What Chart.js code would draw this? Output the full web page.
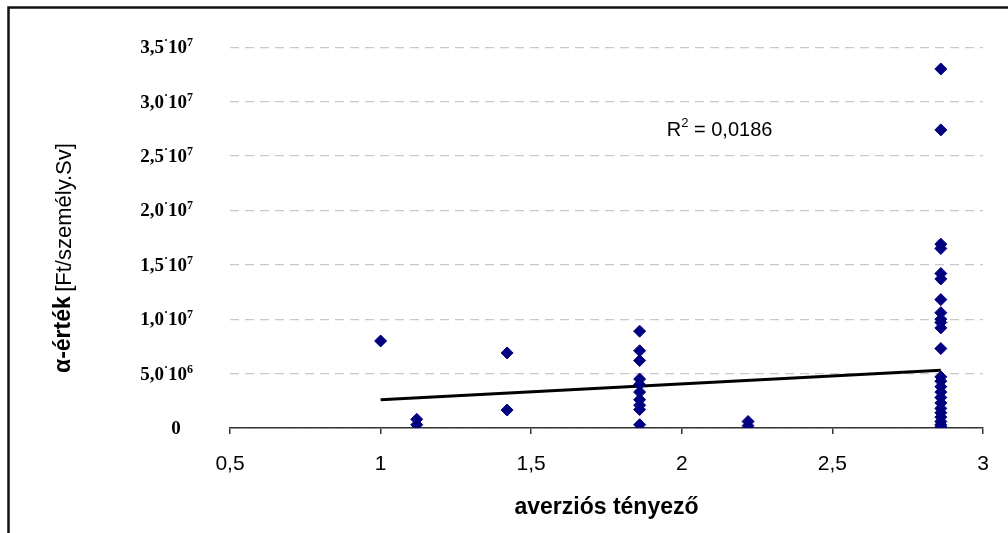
<!DOCTYPE html>
<html>
<head>
<meta charset="utf-8">
<script src="https://cdn.jsdelivr.net/npm/chart.js@4"></script>
<style>
  html, body { margin: 0; padding: 0; background: #fff; }
  #wrap { width: 1008px; height: 533px; position: relative; }
</style>
</head>
<body>
<div id="wrap"><canvas id="alphaChart"></canvas></div>
<script>
// measured points: averziós tényező vs. α-érték
const aversionX = [
  1,
  1.12, 1.12,
  1.42, 1.42,
  1.86, 1.86, 1.86, 1.86, 1.86, 1.86, 1.86, 1.86, 1.86, 1.86,
  2.22, 2.22,
  2.86, 2.86, 2.86, 2.86, 2.86, 2.86, 2.86, 2.86, 2.86, 2.86, 2.86, 2.86,
  2.86, 2.86, 2.86, 2.86, 2.86, 2.86, 2.86, 2.86, 2.86, 2.86, 2.86, 2.86
];
const alphaValues = [
  8.0e6,
  0.8e6, 0.3e6,
  6.9e6, 1.65e6,
  8.9e6, 7.1e6, 6.2e6, 4.5e6, 4.0e6, 3.3e6, 2.6e6, 2.1e6, 1.7e6, 0.3e6,
  0.6e6, 0.2e6,
  33.0e6, 27.4e6, 16.9e6, 16.5e6, 14.2e6, 13.7e6, 11.8e6, 10.6e6, 10.0e6, 9.7e6, 9.2e6, 7.3e6,
  4.7e6, 4.3e6, 3.8e6, 3.3e6, 2.8e6, 2.3e6, 1.8e6, 1.4e6, 1.0e6, 0.6e6, 0.3e6, 0.1e6
];

// linear trendline end points
const trendX = [1, 2.86];
const trendY = [2.6e6, 5.3e6];

// y tick labels: mantissa and power of ten
const yTickMantissa = ['0', '5,0', '1,0', '1,5', '2,0', '2,5', '3,0', '3,5'];
const yTickExponent = ['', '6', '7', '7', '7', '7', '7', '7'];
const rSquaredText = '0,0186';

const scatterPoints = aversionX.map((x, i) => ({ x: x, y: alphaValues[i] }));
const trendPoints = trendX.map((x, i) => ({ x: x, y: trendY[i] }));

const SANS = '"Liberation Sans", Arial, sans-serif';
const SERIF = '"Liberation Serif", "Times New Roman", serif';

// frame, y tick labels, axis titles and R² note
const annotations = {
  id: 'annotations',
  afterDraw(chart) {
    const ctx = chart.ctx;
    const xs = chart.scales.x;
    const ys = chart.scales.y;
    ctx.save();

    // outer frame (left and top edges)
    ctx.strokeStyle = '#111';
    ctx.lineWidth = 2.5;
    ctx.beginPath();
    ctx.moveTo(8.5, 540);
    ctx.lineTo(8.5, 7.5);
    ctx.lineTo(1010, 7.5);
    ctx.stroke();

    // y tick labels like "3,5·10⁷"
    ctx.fillStyle = '#000';
    ctx.textBaseline = 'alphabetic';
    ys.ticks.forEach((t, i) => {
      const y = ys.getPixelForValue(t.value) + 6;
      const man = yTickMantissa[i];
      const exp = yTickExponent[i];
      if (!exp) {
        ctx.font = 'bold 19px ' + SERIF;
        ctx.textAlign = 'center';
        ctx.fillText(man, 176, y);
        return;
      }
      ctx.font = 'bold 19px ' + SERIF;
      const wMan = ctx.measureText(man).width;
      const wTen = ctx.measureText('10').width;
      ctx.font = 'bold 12px ' + SERIF;
      const wDot = ctx.measureText('·').width;
      const wExp = ctx.measureText(exp).width;
      let x = 193 - (wMan + wDot + wTen + wExp);
      ctx.textAlign = 'left';
      ctx.font = 'bold 19px ' + SERIF;
      ctx.fillText(man, x, y);
      x += wMan;
      ctx.font = 'bold 12px ' + SERIF;
      ctx.fillText('·', x, y - 9);
      x += wDot;
      ctx.font = 'bold 19px ' + SERIF;
      ctx.fillText('10', x, y);
      x += wTen;
      ctx.font = 'bold 12px ' + SERIF;
      ctx.fillText(exp, x, y - 7);
    });

    // x title
    ctx.font = 'bold 23px ' + SANS;
    ctx.textAlign = 'center';
    ctx.textBaseline = 'middle';
    ctx.fillText('averziós tényező', (xs.left + xs.right) / 2, 508);

    // y title: bold part + unit
    ctx.translate(64, 373);
    ctx.rotate(-Math.PI / 2);
    ctx.textAlign = 'left';
    ctx.font = 'bold 23px ' + SANS;
    ctx.fillText('α-érték', 0, 0);
    const w = ctx.measureText('α-érték ').width;
    ctx.font = '22px ' + SANS;
    ctx.fillText('[Ft/személy.Sv]', w - 2, 1);
    ctx.setTransform(1, 0, 0, 1, 0, 0);

    // R² label
    let px = xs.getPixelForValue(1.95);
    const py = ys.getPixelForValue(27.3e6);
    ctx.textAlign = 'left';
    ctx.font = '20px ' + SANS;
    ctx.fillText('R', px, py);
    px += ctx.measureText('R').width;
    ctx.font = '13px ' + SANS;
    ctx.fillText('2', px, py - 8);
    px += ctx.measureText('2').width;
    ctx.font = '20px ' + SANS;
    ctx.fillText(' = ' + rSquaredText, px, py);
    ctx.restore();
  }
};

new Chart(document.getElementById('alphaChart'), {
  type: 'scatter',
  data: {
    datasets: [
      {
        data: scatterPoints,
        pointStyle: 'rectRot',
        pointRadius: 6,
        pointHoverRadius: 6,
        backgroundColor: '#000080',
        borderColor: '#000080',
        borderWidth: 1
      },
      {
        type: 'line',
        data: trendPoints,
        borderColor: '#000',
        borderWidth: 3,
        pointRadius: 0,
        fill: false
      }
    ]
  },
  options: {
    responsive: true,
    maintainAspectRatio: false,
    animation: false,
    layout: { padding: { top: 45, right: 25, left: 0, bottom: 0 } },
    plugins: {
      legend: { display: false },
      tooltip: { enabled: false }
    },
    scales: {
      x: {
        type: 'linear',
        min: 0.5,
        max: 3,
        afterFit: (scale) => { scale.height = 105; },
        ticks: {
          stepSize: 0.5,
          padding: 18,
          color: '#000',
          font: { family: SANS, size: 21 },
          callback: (v) => String(v).replace('.', ',')
        },
        grid: {
          drawOnChartArea: false,
          drawTicks: true,
          tickLength: 6,
          color: '#333',
          lineWidth: 1.5
        },
        border: { display: true, color: '#333', width: 1.5 }
      },
      y: {
        min: 0,
        max: 3.5e7,
        afterFit: (scale) => { scale.width = 230; },
        ticks: {
          stepSize: 5e6,
          // labels are painted by the annotations plugin
          callback: () => '',
          padding: 40
        },
        grid: {
          drawTicks: false,
          color: '#c8c8c8',
          lineWidth: 1.2
        },
        border: { display: false, dash: [9, 6] }
      }
    }
  },
  plugins: [annotations]
});
</script>
</body>
</html>
